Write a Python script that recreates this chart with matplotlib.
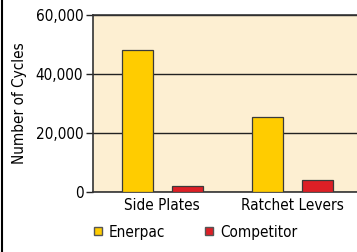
import numpy as np
import matplotlib.pyplot as plt
from matplotlib.ticker import FuncFormatter
import matplotlib.lines as mlines

# chart data
categories = ["Side Plates", "Ratchet Levers"]
enerpac = [48000, 25500]
competitor = [1900, 4000]
series_names = ["Enerpac", "Competitor"]
yticks = [0, 20000, 40000, 60000]

plt.rcParams.update({"font.family": ["DejaVu Sans"], "font.stretch": "condensed", "font.size": 11})

fig = plt.figure(figsize=(3.57, 2.52), dpi=100)
ax = fig.add_axes([93/357, 1 - 192/252, 1 - 93/357 + 0.01, (192 - 15)/252])
ax.set_facecolor("#FDEFD2")

x = np.arange(len(categories))
w = 0.236
off = 0.192
ax.bar(x - off, enerpac, w, color="#FFCC00", edgecolor="#3a3a3a", linewidth=0.9, zorder=3)
ax.bar(x + off, competitor, w, color="#DD1F26", edgecolor="#3a3a3a", linewidth=0.9, zorder=3)

ax.set_xlim(-0.53, 1.52)
ax.set_ylim(0, 60000)
ax.set_yticks(yticks)
ax.yaxis.set_major_formatter(FuncFormatter(lambda v, p: f"{int(v):,}"))
ax.set_xticks(x)
ax.set_xticklabels(categories)
ax.tick_params(axis="x", length=0, pad=4)
ax.tick_params(axis="y", length=5, width=1, color="#222222", pad=2)
ax.grid(axis="y", color="#222222", linewidth=1.0, zorder=1)
for s in ["left", "top", "bottom"]:
    ax.spines[s].set_color("#333333")
    ax.spines[s].set_linewidth(1.2)
ax.spines["right"].set_visible(False)
ax.set_ylabel("Number of Cycles", labelpad=6)

# legend
h1 = mlines.Line2D([], [], marker="s", linestyle="none", markersize=6, markerfacecolor="#FFCC00", markeredgecolor="#555555")
h2 = mlines.Line2D([], [], marker="s", linestyle="none", markersize=6, markerfacecolor="#DD1F26", markeredgecolor="#555555")
fig.legend([h1, h2], series_names, loc="center left", bbox_to_anchor=(78/357, 1 - 232/252), ncol=2,
           frameon=False, handletextpad=0.3, columnspacing=2.5, handlelength=0.8)

# left border line
fig.add_artist(plt.Line2D([1.5/357, 1.5/357], [0, 1], color="black", linewidth=1.5))

fig.savefig("out.png", dpi=100)
